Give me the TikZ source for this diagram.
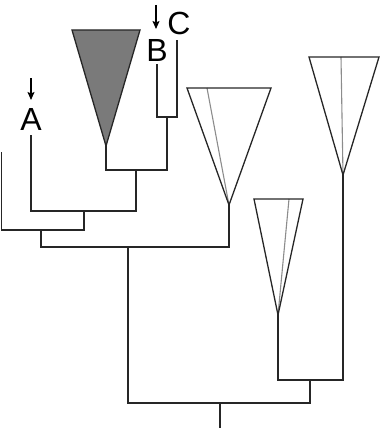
\documentclass[tikz,border=0pt]{standalone}
\usepackage{fontspec}
\setmainfont{Liberation Sans}
\usetikzlibrary{arrows.meta}
\begin{document}
\begin{tikzpicture}[x=1pt,y=-1pt,
  branch/.style={draw=black!85,line width=1.4pt,line cap=rect},
  clade/.style={draw=black!85,line width=1.3pt,line join=miter},
  inner/.style={draw=black!45,line width=1.1pt},
  taxon/.style={inner sep=0pt,font=\fontsize{32}{32}\selectfont},
  pointer/.style={draw=black,line width=1.3pt,-{Stealth[length=8pt,width=7pt,inset=1.5pt]}}]
\useasboundingbox (0,0) rectangle (382,428);

% shaded clade
\coordinate (g1) at (72,30);
\coordinate (g2) at (140,30);
\coordinate (gapex) at (106,146);
\fill[black!52] (g1) -- (g2) -- (gapex) -- cycle;
\draw[clade] (g1) -- (g2) -- (gapex) -- cycle;

% open clades with an inner lineage
\coordinate (m1) at (187,88);
\coordinate (m2) at (271,88);
\coordinate (mapex) at (229,205);
\coordinate (mi) at (207,88);
\draw[inner] (mi) -- (mapex);
\draw[clade] (m1) -- (m2) -- (mapex) -- cycle;

\coordinate (r1) at (309,57);
\coordinate (r2) at (379,57);
\coordinate (rapex) at (343,175);
\coordinate (ri) at (341,57);
\draw[inner] (ri) -- (rapex);
\draw[clade] (r1) -- (r2) -- (rapex) -- cycle;

\coordinate (s1) at (254,199);
\coordinate (s2) at (303,199);
\coordinate (sapex) at (278,315);
\coordinate (si) at (289,199);
\draw[inner] (si) -- (sapex);
\draw[clade] (s1) -- (s2) -- (sapex) -- cycle;

% labelled tips
\node[taxon] (A) at (31,119) {A};
\node[taxon] (B) at (157,50) {B};
\node[taxon] (C) at (179,23) {C};
\coordinate (Aa) at (31,78);
\coordinate (Ab) at (31,100);
\coordinate (Ba) at (156,5);
\coordinate (Bb) at (156,29);
\draw[pointer] (Aa) -- (Ab);
\draw[pointer] (Ba) -- (Bb);

\coordinate (Ltip) at (1.5,153);
\coordinate (Atip) at (31,136);
\coordinate (Btip) at (157,65);
\coordinate (Ctip) at (177,41);
\coordinate (root) at (220,428);

% backbone
\draw[branch] (Btip) |- (167,117) -| (Ctip);
\draw[branch] (gapex) |- (136,170) -| (167,117);
\draw[branch] (Atip) |- (84,211) -| (136,170);
\draw[branch] (Ltip) |- (41,230) -| (84,211);
\draw[branch] (41,230) |- (128,247) -| (mapex);
\draw[branch] (sapex) |- (310,380) -| (rapex);
\draw[branch] (128,247) |- (220,403) -| (310,380);
\draw[branch] (220,403) -- (root);
\end{tikzpicture}
\end{document}
